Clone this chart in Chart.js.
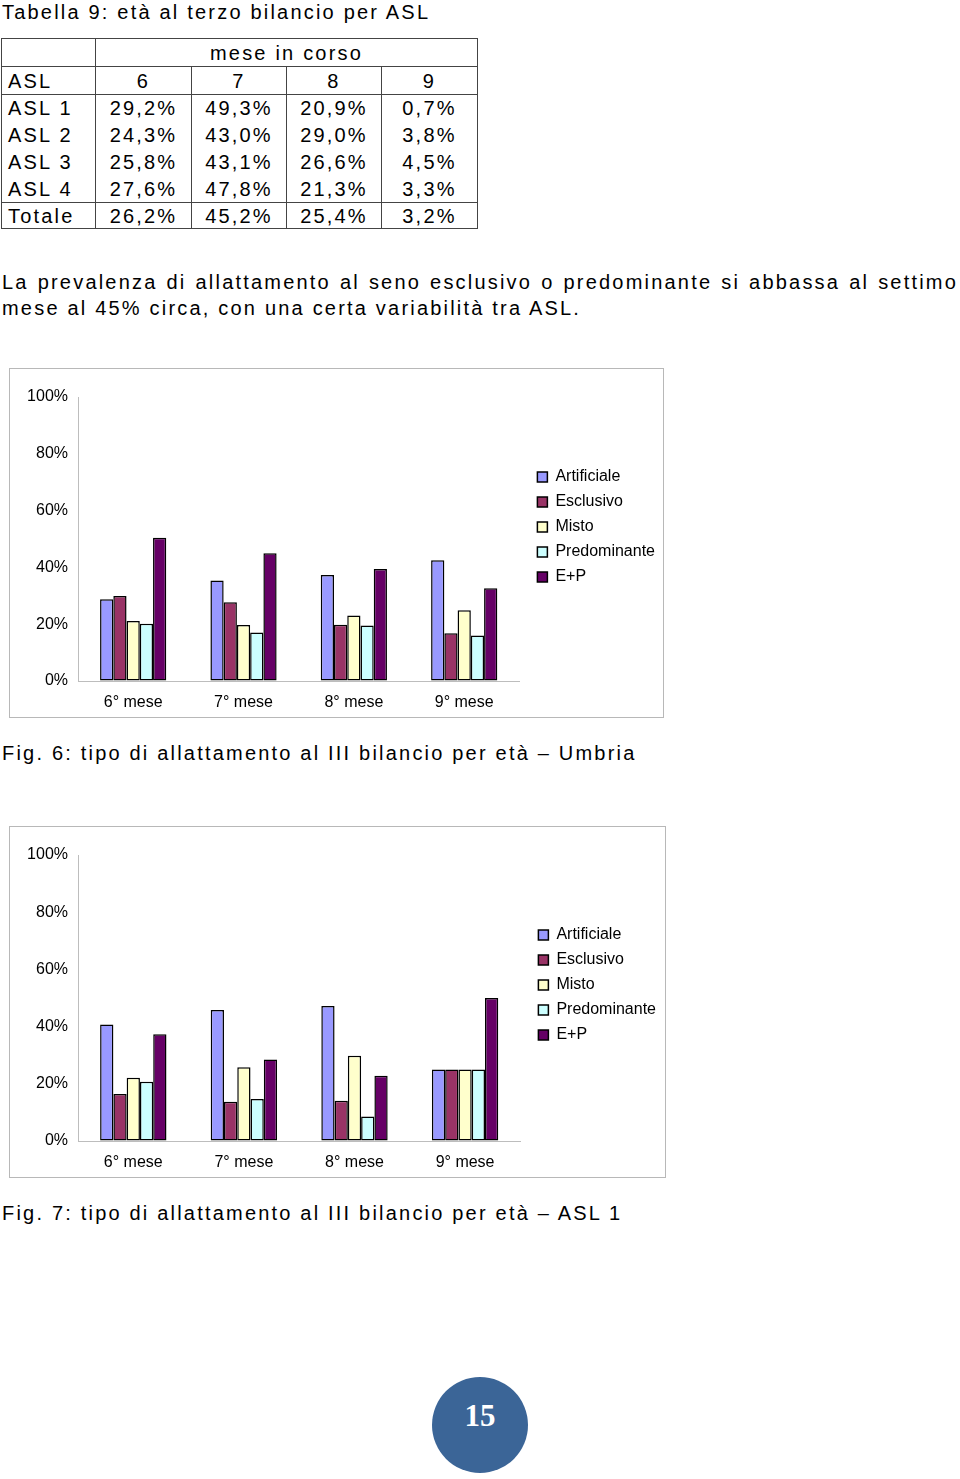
<!DOCTYPE html>
<html>
<head>
<meta charset="utf-8">
<script src="https://cdn.jsdelivr.net/npm/chart.js@4.4.1/dist/chart.umd.min.js"></script>
<style>
  body { margin: 0; background: #fff; width: 960px; height: 1479px; position: relative; overflow: hidden;
         font-family: "Liberation Sans", Arial, sans-serif; color: #000; }
  .txt { position: absolute; left: 2px; font-size: 20px; letter-spacing: 2.2px; line-height: 26px; white-space: nowrap; }
  .just { text-align: justify; text-align-last: justify; width: 956px; }
  table { position: absolute; left: 1px; top: 38px; border-collapse: collapse; font-size: 20px; letter-spacing: 2.2px; }
  td { border-left: 1px solid #444; border-right: 1px solid #444; padding: 0; text-align: center; line-height: 20px; }
  td.first { text-align: left; padding-left: 6px; }
  tr.line td { border-top: 1px solid #444; }
  tr.last td { border-bottom: 1px solid #444; }
  .box { position: absolute; left: 9px; width: 655px; border: 1px solid #b8b8b8; box-sizing: border-box; }
  .cv { position: absolute; left: 9px; }
  .pg { position: absolute; left: 432px; top: 1377px; width: 96px; height: 96px; border-radius: 50%;
        background: #3b6597; color: #fff; font-family: "Liberation Serif", "DejaVu Serif", serif;
        font-weight: bold; font-size: 31px; text-align: center; line-height: 78px; }
</style>
</head>
<body>
<div class="txt" style="top:-1px;">Tabella 9: età al terzo bilancio per ASL</div>
<table id="tab"></table>
<div class="txt just" style="top:269px;">La prevalenza di allattamento al seno esclusivo o predominante si abbassa al settimo</div>
<div class="txt" style="top:295px;">mese al 45% circa, con una certa variabilità tra ASL.</div>

<div class="box" style="top:368px;height:350px;"></div>
<canvas id="c1" class="cv" style="top:368px;" width="656" height="350"></canvas>
<div class="txt" style="top:740px;">Fig. 6: tipo di allattamento al III bilancio per età – Umbria</div>

<div class="box" style="top:826px;height:352px;left:9px;width:657px;"></div>
<canvas id="c2" class="cv" style="top:826px;" width="657" height="352"></canvas>
<div class="txt" style="top:1200px;">Fig. 7: tipo di allattamento al III bilancio per età – ASL 1</div>

<div class="pg">15</div>

<script>
// Tabella 9
const tabMonths = ["6", "7", "8", "9"];
const tabRows = ["ASL 1", "ASL 2", "ASL 3", "ASL 4", "Totale"];
const tabValues = [
  ["29,2%", "49,3%", "20,9%", "0,7%"],
  ["24,3%", "43,0%", "29,0%", "3,8%"],
  ["25,8%", "43,1%", "26,6%", "4,5%"],
  ["27,6%", "47,8%", "21,3%", "3,3%"],
  ["26,2%", "45,2%", "25,4%", "3,2%"]
];

// grafici
const months = ["6° mese", "7° mese", "8° mese", "9° mese"];
const seriesNames = ["Artificiale", "Esclusivo", "Misto", "Predominante", "E+P"];
const seriesColors = ["#9999ff", "#993366", "#ffffcc", "#ccffff", "#660066"];
// Fig. 6 - Umbria
const umbriaArtificiale = [28.8, 35.4, 37.3, 42.5];
const umbriaEsclusivo = [29.9, 27.7, 19.8, 16.8];
const umbriaMisto = [21.1, 19.7, 23.1, 24.9];
const umbriaPredominante = [20.2, 17.1, 19.5, 16.0];
const umbriaEP = [50.4, 45.0, 39.4, 32.7];
// Fig. 7 - ASL 1
const asl1Artificiale = [40.7, 45.8, 47.2, 25.0];
const asl1Esclusivo = [16.4, 13.7, 14.1, 25.0];
const asl1Misto = [22.1, 25.8, 29.8, 25.0];
const asl1Predominante = [20.7, 14.7, 8.6, 25.0];
const asl1EP = [37.3, 28.5, 22.8, 50.0];
const yTicks = [0, 20, 40, 60, 80, 100];

// build table
const tab = document.getElementById("tab");
const widths = [94, 96, 95, 95, 96];
let html = '<colgroup>' + widths.map(w => '<col style="width:' + w + 'px">').join('') + '</colgroup>';
html += '<tr class="line" style="height:28px"><td></td><td colspan="4">mese in corso</td></tr>';
html += '<tr class="line" style="height:28px"><td class="first">ASL</td>' + tabMonths.map(m => '<td>' + m + '</td>').join('') + '</tr>';
tabRows.forEach((r, i) => {
  const cls = (i === 0 || i === 4) ? 'line' : '';
  const last = i === 4 ? ' last' : '';
  const h = i === 4 ? 26 : 27;
  html += '<tr class="' + cls + last + '" style="height:' + h + 'px"><td class="first">' + r + '</td>' +
    tabValues[i].map(v => '<td>' + v + '</td>').join('') + '</tr>';
});
tab.innerHTML = html;

Chart.defaults.font.family = '"Liberation Sans", Arial, sans-serif';
Chart.defaults.font.size = 16;
Chart.defaults.color = '#000';

function makeChart(id, values) {
  const datasets = seriesNames.map((name, i) => ({
    label: name,
    data: values[i],
    backgroundColor: seriesColors[i],
    borderColor: '#000',
    borderWidth: 1.5,
    borderSkipped: false,
    categoryPercentage: 0.6,
    barPercentage: 1.0,
    yAxisID: 'y'
  }));
  return new Chart(document.getElementById(id), {
    type: 'bar',
    data: { labels: months, datasets: datasets },
    options: {
      responsive: false,
      animation: false,
      layout: { padding: { top: 29, right: 0, left: 0, bottom: 0 } },
      plugins: {
        tooltip: { enabled: false },
        legend: {
          position: 'right',
          align: 'start',
          maxWidth: 200,
          title: { display: true, text: ' ', font: { size: 12 }, padding: { top: 48.6, bottom: 0 } },
          labels: { boxWidth: 10, boxHeight: 10, padding: 9, font: { size: 16 } }
        }
      },
      scales: {
        x: {
          grid: { display: true, drawOnChartArea: false, drawTicks: false },
          border: { color: '#bdbdbd', width: 1 },
          ticks: { padding: 12, maxRotation: 0 },
          afterFit: s => { s.height = 37; }
        },
        y: {
          min: 0, max: 100,
          afterBuildTicks: s => { s.ticks = yTicks.map(v => ({ value: v })); },
          grid: { display: true, drawOnChartArea: false, drawTicks: false },
          border: { color: '#bdbdbd', width: 1 },
          ticks: { padding: 10, callback: v => v + '%' },
          afterFit: s => { s.width = 69; }
        },
        yr: {
          position: 'right',
          display: true,
          grid: { display: false },
          border: { display: false },
          ticks: { display: false },
          afterFit: s => { s.width = 9; }
        }
      }
    }
  });
}

makeChart('c1', [umbriaArtificiale, umbriaEsclusivo, umbriaMisto, umbriaPredominante, umbriaEP]);
makeChart('c2', [asl1Artificiale, asl1Esclusivo, asl1Misto, asl1Predominante, asl1EP]);
</script>
</body>
</html>
